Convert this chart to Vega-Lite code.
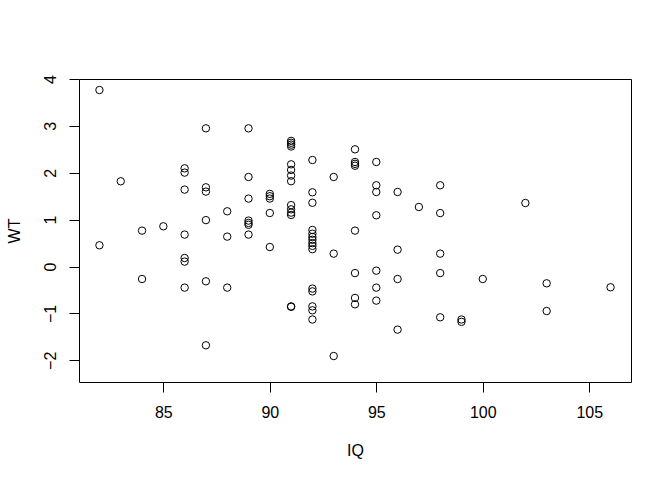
{
  "$schema": "https://vega.github.io/schema/vega-lite/v6.json",
  "width": 552,
  "height": 303,
  "autosize": "none",
  "padding": {"left": 79, "top": 79, "right": 41, "bottom": 98},
  "background": "white",
  "config": {
    "view": {"stroke": "black", "strokeWidth": 1},
    "axis": {
      "domain": false,
      "grid": false,
      "tickSize": 10,
      "tickColor": "black",
      "tickWidth": 1,
      "labelFont": "Liberation Sans",
      "labelFontSize": 16,
      "labelColor": "black",
      "labelFlush": false,
      "labelOverlap": false,
      "titleFont": "Liberation Sans",
      "titleFontSize": 16,
      "titleFontWeight": "normal",
      "titleColor": "black"
    }
  },
  "data": {
    "values": [
      {"IQ": 82, "WT": 3.765}, {"IQ": 82, "WT": 0.453},
      {"IQ": 83, "WT": 1.818},
      {"IQ": 84, "WT": 0.766}, {"IQ": 84, "WT": -0.266},
      {"IQ": 85, "WT": 0.858},
      {"IQ": 86, "WT": 2.095}, {"IQ": 86, "WT": 2.003}, {"IQ": 86, "WT": 1.641}, {"IQ": 86, "WT": 0.681}, {"IQ": 86, "WT": 0.182}, {"IQ": 86, "WT": 0.105}, {"IQ": 86, "WT": -0.45},
      {"IQ": 87, "WT": 2.948}, {"IQ": 87, "WT": 1.69}, {"IQ": 87, "WT": 1.598}, {"IQ": 87, "WT": 0.99}, {"IQ": 87, "WT": -0.315}, {"IQ": 87, "WT": -1.68},
      {"IQ": 88, "WT": 1.178}, {"IQ": 88, "WT": 0.638}, {"IQ": 88, "WT": -0.45},
      {"IQ": 89, "WT": 2.948}, {"IQ": 89, "WT": 1.91}, {"IQ": 89, "WT": 1.449}, {"IQ": 89, "WT": 0.98}, {"IQ": 89, "WT": 0.93}, {"IQ": 89, "WT": 0.89}, {"IQ": 89, "WT": 0.681},
      {"IQ": 90, "WT": 1.55}, {"IQ": 90, "WT": 1.5}, {"IQ": 90, "WT": 1.45}, {"IQ": 90, "WT": 1.142}, {"IQ": 90, "WT": 0.416},
      {"IQ": 91, "WT": 2.68}, {"IQ": 91, "WT": 2.64}, {"IQ": 91, "WT": 2.6}, {"IQ": 91, "WT": 2.56},
      {"IQ": 91, "WT": 2.18}, {"IQ": 91, "WT": 2.06}, {"IQ": 91, "WT": 1.94}, {"IQ": 91, "WT": 1.82},
      {"IQ": 91, "WT": 1.31}, {"IQ": 91, "WT": 1.22}, {"IQ": 91, "WT": 1.15}, {"IQ": 91, "WT": 1.1},
      {"IQ": 91, "WT": -0.85}, {"IQ": 91, "WT": -0.86},
      {"IQ": 92, "WT": 2.272}, {"IQ": 92, "WT": 1.583}, {"IQ": 92, "WT": 1.36},
      {"IQ": 92, "WT": 0.78}, {"IQ": 92, "WT": 0.7}, {"IQ": 92, "WT": 0.63}, {"IQ": 92, "WT": 0.57}, {"IQ": 92, "WT": 0.5}, {"IQ": 92, "WT": 0.44}, {"IQ": 92, "WT": 0.37},
      {"IQ": 92, "WT": -0.47}, {"IQ": 92, "WT": -0.53}, {"IQ": 92, "WT": -0.85}, {"IQ": 92, "WT": -0.934}, {"IQ": 92, "WT": -1.13},
      {"IQ": 93, "WT": 1.91}, {"IQ": 93, "WT": 0.275}, {"IQ": 93, "WT": -1.909},
      {"IQ": 94, "WT": 2.5}, {"IQ": 94, "WT": 2.23}, {"IQ": 94, "WT": 2.19}, {"IQ": 94, "WT": 2.15}, {"IQ": 94, "WT": 0.766}, {"IQ": 94, "WT": -0.14}, {"IQ": 94, "WT": -0.67}, {"IQ": 94, "WT": -0.806},
      {"IQ": 95, "WT": 2.23}, {"IQ": 95, "WT": 1.733}, {"IQ": 95, "WT": 1.59}, {"IQ": 95, "WT": 1.093}, {"IQ": 95, "WT": -0.088}, {"IQ": 95, "WT": -0.45}, {"IQ": 95, "WT": -0.727},
      {"IQ": 96, "WT": 1.59}, {"IQ": 96, "WT": 0.36}, {"IQ": 96, "WT": -0.266}, {"IQ": 96, "WT": -1.346},
      {"IQ": 97, "WT": 1.27},
      {"IQ": 98, "WT": 1.733}, {"IQ": 98, "WT": 1.14}, {"IQ": 98, "WT": 0.275}, {"IQ": 98, "WT": -0.14}, {"IQ": 98, "WT": -1.083},
      {"IQ": 99, "WT": -1.13}, {"IQ": 99, "WT": -1.18},
      {"IQ": 100, "WT": -0.266},
      {"IQ": 102, "WT": 1.355},
      {"IQ": 103, "WT": -0.358}, {"IQ": 103, "WT": -0.949},
      {"IQ": 106, "WT": -0.443}
    ]
  },
  "mark": {"type": "point", "shape": "circle", "filled": false, "stroke": "black", "strokeWidth": 1, "size": 55, "opacity": 1},
  "encoding": {
    "x": {
      "field": "IQ",
      "type": "quantitative",
      "scale": {"domain": [81.04, 106.96], "nice": false, "zero": false},
      "axis": {
        "values": [85, 90, 95, 100, 105],
        "title": "IQ",
        "labelBaseline": "alphabetic",
        "labelPadding": 25,
        "titleX": 276,
        "titleY": 73,
        "titleAlign": "center",
        "titleBaseline": "alphabetic"
      }
    },
    "y": {
      "field": "WT",
      "type": "quantitative",
      "scale": {"domain": [-2.463, 4.0], "nice": false, "zero": false},
      "axis": {
        "values": [-2, -1, 0, 1, 2, 3, 4],
        "title": "WT",
        "labelAngle": -90,
        "labelAlign": "center",
        "labelBaseline": "alphabetic",
        "labelPadding": 14,
        "titleX": -60,
        "titleY": 151.5,
        "titleAngle": -90,
        "titleAlign": "center",
        "titleBaseline": "alphabetic"
      }
    }
  }
}
